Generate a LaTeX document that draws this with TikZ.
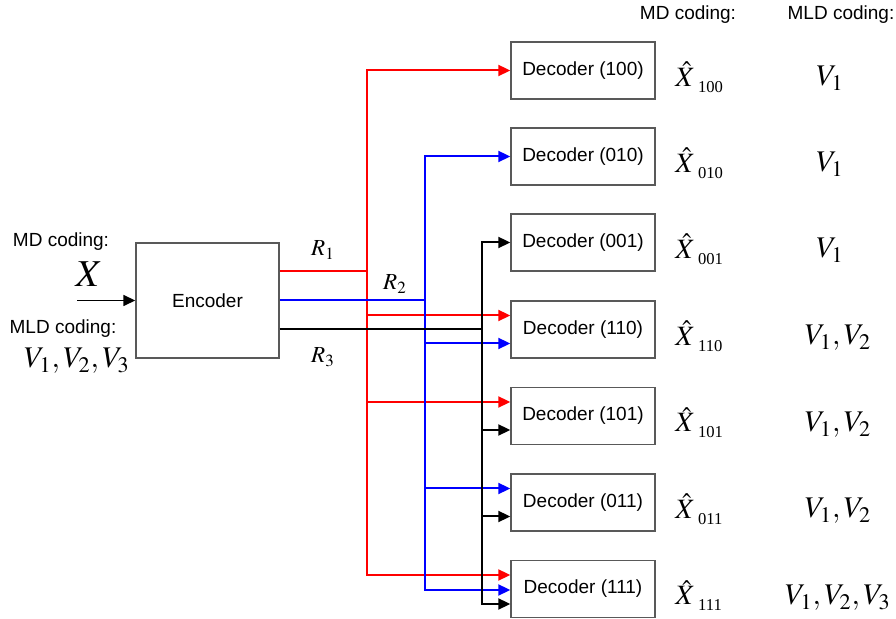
\documentclass[tikz,border=0pt]{standalone}
\usepackage{mathptmx}
\usepackage[no-math]{fontspec}
\setmainfont{Liberation Sans}
\newfontfamily\tms{Liberation Serif}
\usetikzlibrary{arrows.meta}

\begin{document}
\begin{tikzpicture}[x=0.5pt,y=-0.5pt,
  box/.style={draw=black!65,line width=0.7pt,minimum width=72pt,minimum height=28.5pt,
    inner sep=0pt,font=\fontsize{9.5}{11}\selectfont},
  lbl/.style={inner sep=0pt,font=\fontsize{9.5}{11}\selectfont},
  md/.style={anchor=base west,inner sep=0pt,font=\fontsize{14}{16}\selectfont},
  mld/.style={anchor=base,inner sep=0pt,font=\fontsize{15}{17}\selectfont},
  rate/.style={inner sep=0pt,font=\fontsize{11.5}{13}\selectfont},
  tip/.style={-{Triangle[length=6pt,width=5.5pt]}},
  rline/.style={red,line width=1pt},
  bline/.style={blue,line width=1pt},
  kline/.style={black,line width=1pt}]
\useasboundingbox (0,0) rectangle (896,619);
% encoder and decoders
\node[box,minimum width=71.5pt,minimum height=57.5pt] (enc) at (207.5,300.5) {Encoder};
\foreach \c/\y in {100/70.5,010/156.5,001/242.5,110/329.5,101/416,011/502.5,111/589}{
  \node[box] (d\c) at (583,\y) {Decoder (\c)};
  \node[md] (x\c) at (675,\y+16) {$\hat{X}$\kern1.5pt\raisebox{-3pt}{\tms\fontsize{8.3}{9}\selectfont\c}};
}
% reconstructions for MLD coding
\node[mld] (v100) at (830,86) {$V_1$};
\node[mld] (v010) at (830,172) {$V_1$};
\node[mld] (v001) at (830,258) {$V_1$};
\node[mld] (v110) at (838,345) {$V_1,V_2$};
\node[mld] (v101) at (838,431.5) {$V_1,V_2$};
\node[mld] (v011) at (838,518) {$V_1,V_2$};
\node[mld] (v111) at (838,604.5) {$V_1,V_2,V_3$};
% column headings
\node[lbl] (mdhead) at (688,15) {MD coding:};
\node[lbl] (mldhead) at (841,15) {MLD coding:};
% source side
\node[lbl] (mdsrc) at (61,242) {MD coding:};
\node[inner sep=0pt,font=\fontsize{19}{21}\selectfont] (xsrc) at (89,274.5) {$X$};
\node[lbl] (mldsrc) at (63,329) {MLD coding:};
\node[mld] (vsrc) at (77,368) {$V_1,V_2,V_3$};
\coordinate (xin) at (77,300.5);
\draw[black,line width=0.8pt,tip] (xin) -- (enc.west);
% rates
\node[rate] (r1) at (323,250) {$R_1$};
\node[rate] (r2) at (395,284) {$R_2$};
\node[rate] (r3) at (323,357) {$R_3$};
% junctions of the three buses
\coordinate (rj) at (367,271.5);
\coordinate (bj) at (425,300.5);
\coordinate (kj) at (482,329.5);
% description 1
\draw[rline] ([yshift=14.5pt]enc.east) -- (rj);
\draw[rline,tip] (rj) |- (d100.west);
\draw[rline,tip] (rj) |- ([yshift=7pt]d110.west);
\draw[rline,tip] (rj) |- ([yshift=7pt]d101.west);
\draw[rline,tip] (rj) |- ([yshift=7pt]d111.west);
% description 2
\draw[bline] (enc.east) -- (bj);
\draw[bline,tip] (bj) |- (d010.west);
\draw[bline,tip] (bj) |- ([yshift=-7pt]d110.west);
\draw[bline,tip] (bj) |- ([yshift=7pt]d011.west);
\draw[bline,tip] (bj) |- ([yshift=-0.5pt]d111.west);
% description 3
\draw[kline] ([yshift=-14.5pt]enc.east) -- (kj);
\draw[kline,tip] (kj) |- (d001.west);
\draw[kline,tip] (kj) |- ([yshift=-7pt]d101.west);
\draw[kline,tip] (kj) |- ([yshift=-7pt]d011.west);
\draw[kline,tip] (kj) |- ([yshift=-7.5pt]d111.west);
\end{tikzpicture}
\end{document}
